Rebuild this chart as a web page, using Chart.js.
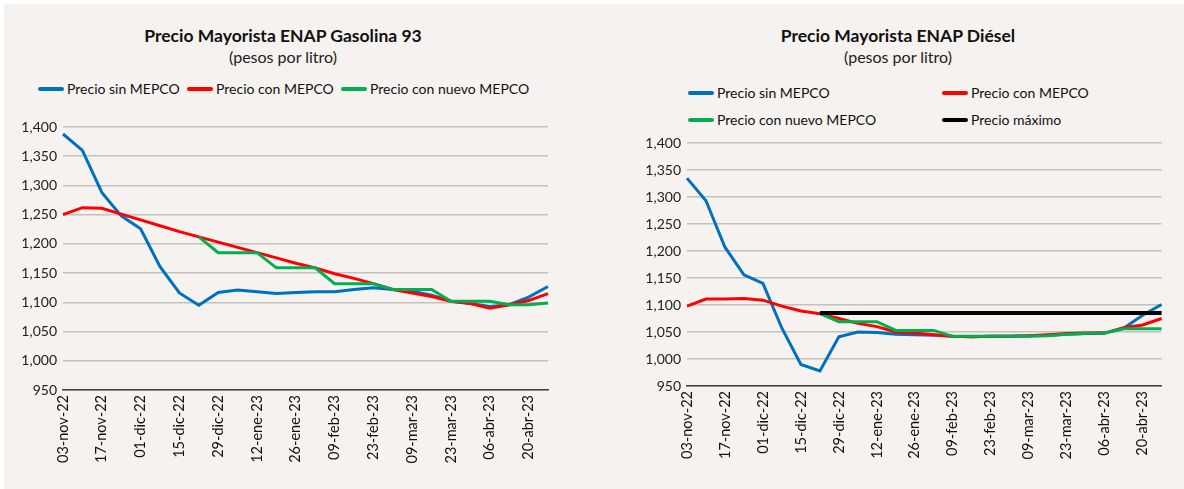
<!DOCTYPE html>
<html>
<head>
<meta charset="utf-8">
<script src="https://cdn.jsdelivr.net/npm/chart.js@4"></script>
<style>
  html, body { margin: 0; padding: 0; background: #ffffff; }
  body { width: 1184px; height: 489px; position: relative; overflow: hidden; font-family: Lato, "Open Sans", sans-serif; color: #111; }
  #panel { position: absolute; left: 4px; top: 4px; right: 0; bottom: 0; background: #f6f2ef; }
  .title { position: absolute; text-align: center; font-weight: bold; font-size: 17.5px; line-height: 22px; }
  .sub { position: absolute; text-align: center; font-size: 16px; line-height: 20px; color: #222; }
  .leg { position: absolute; display: flex; align-items: center; font-size: 14px; line-height: 18px; white-space: nowrap; }
  .leg i { display: inline-block; width: 26px; height: 4px; border-radius: 2px; margin-right: 3px; }
  canvas { position: absolute; }
</style>
</head>
<body>
<div id="panel"></div>

<div class="title" style="left:0;width:566px;top:25px;">Precio Mayorista ENAP Gasolina 93</div>
<div class="sub" style="left:0;width:566px;top:47px;">(pesos por litro)</div>
<div id="legGas"></div>

<div class="title" style="left:590px;width:616px;top:25px;">Precio Mayorista ENAP Diésel</div>
<div class="sub" style="left:590px;width:616px;top:47px;">(pesos por litro)</div>
<div id="legDie"></div>

<canvas id="gas" width="590" height="389" style="left:0;top:100px;width:590px;height:389px;"></canvas>
<canvas id="die" width="594" height="389" style="left:590px;top:100px;width:594px;height:389px;"></canvas>

<script>
// ---------------------------------------------------------------------
// Data (weekly, pesos por litro)
// ---------------------------------------------------------------------
const fechas = [
  "03-nov-22", "10-nov-22", "17-nov-22", "24-nov-22", "01-dic-22", "08-dic-22",
  "15-dic-22", "22-dic-22", "29-dic-22", "05-ene-23", "12-ene-23", "19-ene-23",
  "26-ene-23", "02-feb-23", "09-feb-23", "16-feb-23", "23-feb-23", "02-mar-23",
  "09-mar-23", "16-mar-23", "23-mar-23", "30-mar-23", "06-abr-23", "13-abr-23",
  "20-abr-23", "27-abr-23"
];

const yMin = 950;
const yMax = 1400;
const yStep = 50;

// Gasolina 93
const gasSinMepco = [1388, 1360, 1288, 1248, 1226, 1161, 1116, 1095, 1117, 1121, 1118, 1115, 1117,
                     1118, 1118, 1122, 1125, 1122, 1119, 1112, 1102, 1098, 1093, 1096, 1109, 1127];
const gasConMepco = [1250, 1262, 1261, 1251, 1241, 1231, 1221, 1212, 1203, 1194, 1185, 1176, 1167,
                     1159, 1149, 1141, 1132, 1122, 1116, 1110, 1102, 1098, 1090, 1096, 1103, 1115];
const gasNuevoMepco = [null, null, null, null, null, null, null, 1212, 1185, 1185, 1185, 1159, 1159,
                       1159, 1132, 1132, 1132, 1122, 1122, 1122, 1102, 1102, 1102, 1096, 1096, 1099];

// Diésel
const dieSinMepco = [1335, 1293, 1207, 1156, 1140, 1057, 990, 978, 1041, 1050, 1049, 1046, 1045,
                     1044, 1042, 1041, 1042, 1042, 1043, 1044, 1046, 1047, 1048, 1057, 1081, 1101];
const dieConMepco = [1098, 1111, 1111, 1112, 1109, 1098, 1089, 1084, 1075, 1066, 1060, 1050, 1048,
                     1045, 1042, 1041, 1042, 1042, 1043, 1045, 1047, 1048, 1048, 1058, 1063, 1075];
const dieNuevoMepco = [null, null, null, null, null, null, null, 1084, 1069, 1069, 1069, 1053, 1053,
                       1053, 1042, 1042, 1042, 1042, 1042, 1043, 1046, 1047, 1048, 1056, 1056, 1056];
const dieMaximo = [null, null, null, null, null, null, null, 1085, 1085, 1085, 1085, 1085, 1085,
                   1085, 1085, 1085, 1085, 1085, 1085, 1085, 1085, 1085, 1085, 1085, 1085, 1085];

const seriesNames = ["Precio sin MEPCO", "Precio con MEPCO", "Precio con nuevo MEPCO", "Precio máximo"];
const seriesColors = ["#0070c0", "#ff0000", "#00b050", "#000000"];

// ---------------------------------------------------------------------
// HTML legends (the diesel one is a 2x2 grid, which Chart.js can't lay out)
// ---------------------------------------------------------------------
function addLegend(host, items) {
  const el = document.getElementById(host);
  items.forEach((it) => {
    const d = document.createElement("div");
    d.className = "leg";
    d.style.left = it.x + "px";
    d.style.top = (it.y - 9) + "px";
    d.innerHTML = `<i style="background:${seriesColors[it.s]}"></i>${seriesNames[it.s]}`;
    el.appendChild(d);
  });
}

addLegend("legGas", [
  { s: 0, x: 38, y: 89 },
  { s: 1, x: 187, y: 89 },
  { s: 2, x: 341, y: 89 },
]);
addLegend("legDie", [
  { s: 0, x: 688, y: 93 },
  { s: 1, x: 942, y: 93 },
  { s: 2, x: 688, y: 120 },
  { s: 3, x: 942, y: 120 },
]);

// ---------------------------------------------------------------------
// Chart builder
// ---------------------------------------------------------------------
function lineSet(idx, data, order, width) {
  return {
    label: seriesNames[idx],
    data,
    borderColor: seriesColors[idx],
    backgroundColor: seriesColors[idx],
    borderWidth: width || 3,
    pointRadius: 0,
    tension: 0,
    spanGaps: false,
    order, // lower order = drawn on top
  };
}

function buildChart(id, datasets, box) {
  return new Chart(document.getElementById(id), {
    type: "line",
    data: { labels: fechas, datasets },
    options: {
      animation: false,
      responsive: false,
      events: [],
      layout: { padding: { left: 0, right: box.right, top: box.top, bottom: 0 } },
      plugins: { legend: { display: false }, tooltip: { enabled: false } },
      scales: {
        x: {
          grid: { display: false, drawTicks: false },
          border: { display: true, color: "#404040", width: 1.5 },
          ticks: {
            autoSkip: false,
            minRotation: 90,
            maxRotation: 90,
            padding: 5,
            color: "#111",
            font: { family: "Lato", size: 14.5 },
            callback: (v, i) => (i % 2 === 0 ? fechas[i] : ""),
          },
          afterFit: (s) => { s.height = box.xh; },
        },
        y: {
          min: yMin,
          max: yMax,
          grid: { color: "#c4c0bc", lineWidth: 1.5, drawTicks: false },
          border: { display: false },
          ticks: {
            stepSize: yStep,
            padding: 6,
            color: "#222",
            font: { family: "Lato", size: 14 },
            callback: (v) => v.toLocaleString("en-US"),
          },
          afterFit: (s) => { s.width = box.yw; },
        },
      },
    },
  });
}

buildChart("gas", [
  lineSet(0, gasSinMepco, 3),
  lineSet(1, gasConMepco, 2),
  lineSet(2, gasNuevoMepco, 1),
], { right: 42, top: 27, xh: 99, yw: 63 });

buildChart("die", [
  lineSet(0, dieSinMepco, 4),
  lineSet(1, dieConMepco, 3),
  lineSet(2, dieNuevoMepco, 2),
  lineSet(3, dieMaximo, 1, 4),
], { right: 21, top: 43, xh: 103, yw: 97 });
</script>
</body>
</html>
